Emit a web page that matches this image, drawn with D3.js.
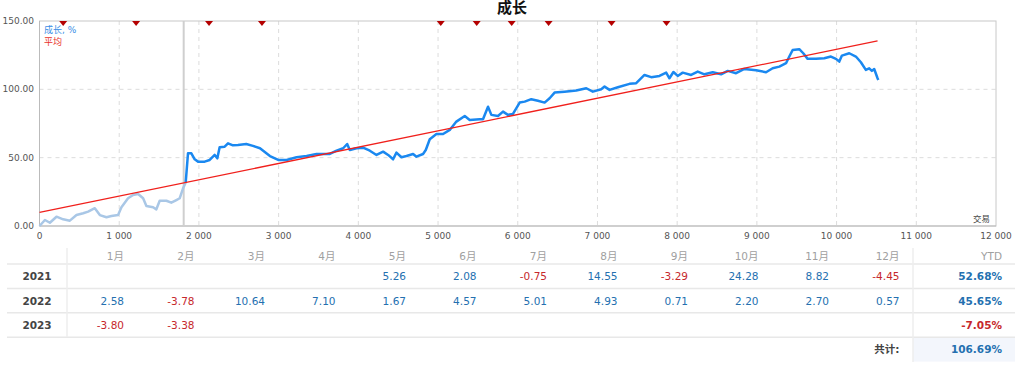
<!DOCTYPE html>
<html>
<head>
<meta charset="utf-8">
<script src="https://cdn.jsdelivr.net/npm/d3@7"></script>
<style>
body{margin:0;background:#fff;}
text{font-family:Tahoma,"DejaVu Sans","Noto Sans CJK SC",sans-serif;}
</style>
</head>
<body>
<script>
// growth curve, trades vs %
var trades = [0,68,130,213,297,381,464,548,610,694,757,840,902,986,1028,1111,1174,1237,1300,1341,1425,1466,1508,1592,1654,1717,1759,1801,1834,
  1863,1905,1947,1989,2072,2135,2198,2231,2260,2323,2365,2427,2490,2594,2678,2766,2891,2995,3100,3225,3351,3476,3580,3643,3727,3810,3860,3893,3977,4060,4144,4228,4311,4374,4436,4478,4541,4604,4687,4729,4812,4846,4896,4980,5063,5147,5230,5335,5397,5522,5564,5627,5669,5752,5815,5877,5940,6024,6087,6170,6253,6337,6400,6462,6587,6734,6860,6942,7047,7089,7152,7256,7402,7486,7590,7674,7778,7862,7903,7953,8007,8070,8175,8258,8342,8446,8551,8634,8739,8843,8990,9115,9198,9282,9366,9407,9449,9532,9582,9637,9741,9846,9929,9992,10034,10067,10159,10242,10305,10367,10409,10443,10472,10514,10523];
var growth = [0,4.4,2.4,6.8,4.9,3.9,8.0,9.3,10.5,13,8,6.4,7.3,8,13.7,20.3,22.7,23.4,20.3,14.6,13.7,12.2,18.5,18.5,17.1,19,20.3,27.6,31.7,
  53.2,53.2,48.8,47.1,47.1,48.3,52,49.5,57.6,58,60.5,59,59.3,60,58.6,56.9,51.2,48.3,48.3,50.3,51.2,52.7,52.7,52.7,55.1,56.9,60,55.6,56.9,57.3,55.1,52,54.4,52,48.8,53.7,50.3,51.2,52.7,50.7,52.7,55.6,63.5,67.3,67.3,70.3,76.4,80.5,77.6,78.1,78.1,87.3,81.3,80.5,83.7,81.3,82,90.3,91,92.8,91.7,90.3,93.5,97.6,98.3,99.1,100.8,98.3,100.1,102,99.6,101.5,104,104.5,110.5,108.9,109.8,112.2,108.1,112.7,109.8,112.2,110.5,113,111,112.5,111,113.5,111.8,114.9,114,112.5,115.4,116.6,119.1,124,128.8,129.4,126.4,122.3,122.3,122.8,124,122.3,120.3,124.7,126.4,124,119.8,114.2,115.4,113.5,114.9,108.1,106.9];
var splitTrade = 1834;
var startLine = 1809;
var avgStart = [0, 10.0];
var avgEnd = [10514, 135.4];
var markers = [297,1212,2127,2791,5034,5485,5924,6387,7177,7866];
var xTicks = [0,1000,2000,3000,4000,5000,6000,7000,8000,9000,10000,11000,12000];
var yTicks = [0,50,100,150];

// monthly table
var months = ['1月','2月','3月','4月','5月','6月','7月','8月','9月','10月','11月','12月'];
var years = ['2021','2022','2023'];
var m2021 = [null,null,null,null,5.26,2.08,-0.75,14.55,-3.29,24.28,8.82,-4.45];
var m2022 = [2.58,-3.78,10.64,7.10,1.67,4.57,5.01,4.93,0.71,2.20,2.70,0.57];
var m2023 = [-3.80,-3.38,null,null,null,null,null,null,null,null,null,null];
var ytd = [52.68,45.65,-7.05];
var total = 106.69;

var W = 1024, H = 370;
var svg = d3.select('body').append('svg').attr('width',W).attr('height',H);
var x = d3.scaleLinear().domain([0,12000]).range([39.5,996]);
var y = d3.scaleLinear().domain([0,150]).range([226,21]);

svg.append('text').attr('x',512).attr('y',13).attr('text-anchor','middle')
  .attr('font-size',15).attr('font-weight','bold').attr('fill','#111').text('成长');

// grid
svg.selectAll('line.vg').data(xTicks.slice(1,-1)).enter().append('line').attr('class','vg')
  .attr('x1',function(d){return x(d);}).attr('x2',function(d){return x(d);})
  .attr('y1',y(150)).attr('y2',y(0))
  .attr('stroke','#dcdcdc').attr('stroke-dasharray','4,4');
svg.selectAll('line.hg').data([50,100]).enter().append('line').attr('class','hg')
  .attr('x1',x(0)).attr('x2',996).attr('y1',function(d){return y(d);}).attr('y2',function(d){return y(d);})
  .attr('stroke','#dcdcdc').attr('stroke-dasharray','4,4');

// frame
svg.append('rect').attr('x',x(0)).attr('y',y(150)).attr('width',996-x(0)).attr('height',y(0)-y(150))
  .attr('fill','none').attr('stroke','#c8c8c8');
svg.append('line').attr('x1',x(0)).attr('x2',x(0)).attr('y1',y(150)).attr('y2',y(0)).attr('stroke','#bbb');
svg.append('line').attr('x1',x(0)).attr('x2',996).attr('y1',y(0)).attr('y2',y(0)).attr('stroke','#bbb');

svg.selectAll('text.yt').data(yTicks).enter().append('text').attr('class','yt')
  .attr('x',34).attr('y',function(d){return y(d)+3;}).attr('text-anchor','end')
  .attr('font-size',9).attr('fill','#555').text(function(d){return d3.format('.2f')(d);});
svg.selectAll('text.xt').data(xTicks).enter().append('text').attr('class','xt')
  .attr('x',function(d){return x(d);}).attr('y',239).attr('text-anchor','middle')
  .attr('font-size',9).attr('fill','#555')
  .text(function(d){return d3.format(',')(d).replace(/,/g,' ');});
svg.append('text').attr('x',990).attr('y',222).attr('text-anchor','end').attr('font-size',8.5).attr('fill','#444').text('交易');

// start marker line
svg.append('line').attr('x1',x(startLine)).attr('x2',x(startLine)).attr('y1',y(150)).attr('y2',y(0))
  .attr('stroke','#cfcfcf').attr('stroke-width',2);

var pts = trades.map(function(t,i){return [t,growth[i]];});
var line = d3.line().x(function(d){return x(d[0]);}).y(function(d){return y(d[1]);});
svg.append('path').datum(pts.filter(function(d){return d[0]<=splitTrade;}))
  .attr('d',line).attr('fill','none').attr('stroke','#a9c7e6').attr('stroke-width',2.5).attr('stroke-linejoin','round');
svg.append('path').datum(pts.filter(function(d){return d[0]>=splitTrade;}))
  .attr('d',line).attr('fill','none').attr('stroke','#1a88f0').attr('stroke-width',2.5).attr('stroke-linejoin','round');

svg.append('path').datum([avgStart,avgEnd]).attr('d',line).attr('fill','none').attr('stroke','#f0201c').attr('stroke-width',1.3);

svg.selectAll('path.mk').data(markers).enter().append('path').attr('class','mk')
  .attr('d',function(d){var cx=x(d),t=y(150); return 'M'+(cx-4)+','+t+'L'+(cx+4)+','+t+'L'+cx+','+(t+5)+'Z';})
  .attr('fill','#b40000');

svg.append('text').attr('x',44).attr('y',33).attr('font-size',9).attr('fill','#3a8ee6').text('成长, %');
svg.append('text').attr('x',44).attr('y',45).attr('font-size',9).attr('fill','#e8332c').text('平均');

// table
var col = d3.scaleBand().domain(months).range([53.5,899.5]);
var rowY = d3.scaleBand().domain(years.concat(['t'])).range([264,361.6]);
var rows = [m2021,m2022,m2023];
var blue = '#2470b0', red = '#c6282c';
var fs = 10.5;

svg.append('rect').attr('x',913).attr('y',rowY('t')).attr('width',102).attr('height',rowY.bandwidth()).attr('fill','#f3f6fc');
svg.append('line').attr('x1',7).attr('x2',1015).attr('y1',264).attr('y2',264).attr('stroke','#e8e8e8').attr('stroke-width',1.5);
years.forEach(function(k){
  svg.append('line').attr('x1',7).attr('x2',1015).attr('y1',rowY(k)+rowY.bandwidth()).attr('y2',rowY(k)+rowY.bandwidth())
    .attr('stroke','#e8e8e8').attr('stroke-width',1.5);
});
svg.append('line').attr('x1',67).attr('x2',67).attr('y1',248).attr('y2',337).attr('stroke','#eeeeee').attr('stroke-width',1.5);
svg.append('line').attr('x1',913).attr('x2',913).attr('y1',248).attr('y2',362).attr('stroke','#eeeeee').attr('stroke-width',1.5);

var mid = function(k){return rowY(k)+rowY.bandwidth()/2+4;};
svg.selectAll('text.mh').data(months).enter().append('text').attr('class','mh')
  .attr('x',function(d){return col(d)+col.bandwidth();}).attr('y',260).attr('text-anchor','end')
  .attr('font-size',fs).attr('fill','#a0a0a0').text(function(d){return d;});
svg.append('text').attr('x',1002).attr('y',260).attr('text-anchor','end').attr('font-size',fs).attr('fill','#a0a0a0').text('YTD');

years.forEach(function(yr,r){
  svg.append('text').attr('x',37).attr('y',mid(yr)).attr('text-anchor','middle').attr('font-size',fs)
    .attr('font-weight','bold').attr('fill','#444').text(yr);
  svg.selectAll('text.v'+yr).data(rows[r]).enter().append('text').attr('class','v'+yr)
    .filter(function(d){return d!==null;})
    .attr('x',function(d){return col(months[rows[r].indexOf(d)])+col.bandwidth();})
    .attr('y',mid(yr)).attr('text-anchor','end').attr('font-size',fs)
    .attr('fill',function(d){return d<0?red:blue;}).text(function(d){return d.toFixed(2);});
  svg.append('text').attr('x',1002).attr('y',mid(yr)).attr('text-anchor','end').attr('font-size',fs)
    .attr('font-weight','bold').attr('fill',ytd[r]<0?red:blue).text(ytd[r].toFixed(2)+'%');
});
svg.append('text').attr('x',899.5).attr('y',mid('t')).attr('text-anchor','end').attr('font-size',fs)
  .attr('font-weight','bold').attr('fill','#444').text('共计:');
svg.append('text').attr('x',1002).attr('y',mid('t')).attr('text-anchor','end').attr('font-size',fs)
  .attr('font-weight','bold').attr('fill',blue).text(total.toFixed(2)+'%');
</script>
</body>
</html>
